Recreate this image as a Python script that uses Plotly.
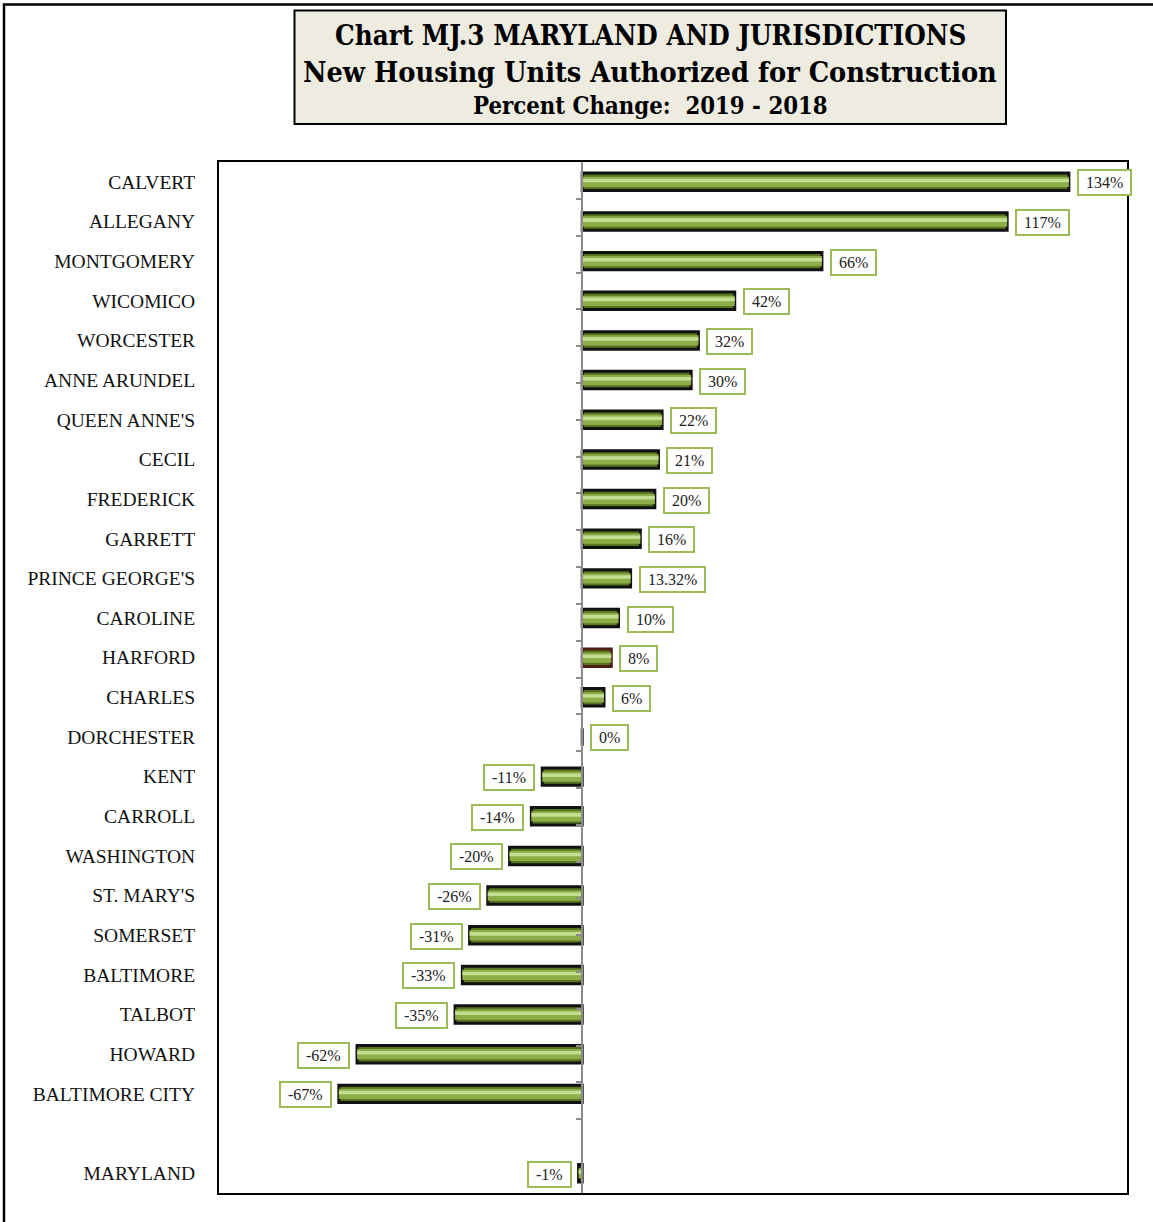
import plotly.graph_objects as go

# ---------------- data ----------------
counties = ["CALVERT", "ALLEGANY", "MONTGOMERY", "WICOMICO", "WORCESTER", "ANNE ARUNDEL",
            "QUEEN ANNE'S", "CECIL", "FREDERICK", "GARRETT", "PRINCE GEORGE'S", "CAROLINE",
            "HARFORD", "CHARLES", "DORCHESTER", "KENT", "CARROLL", "WASHINGTON", "ST. MARY'S",
            "SOMERSET", "BALTIMORE", "TALBOT", "HOWARD", "BALTIMORE CITY", " ", "MARYLAND"]
pct_change = [134, 117, 66, 42, 32, 30, 22, 21, 20, 16, 13.32, 10, 8, 6, 0,
              -11, -14, -20, -26, -31, -33, -35, -62, -67, None, -1]
value_labels = ["134%", "117%", "66%", "42%", "32%", "30%", "22%", "21%", "20%", "16%",
                "13.32%", "10%", "8%", "6%", "0%", "-11%", "-14%", "-20%", "-26%", "-31%",
                "-33%", "-35%", "-62%", "-67%", None, "-1%"]
title_lines = ["Chart MJ.3 MARYLAND AND JURISDICTIONS",
               "New Housing Units Authorized for Construction",
               "Percent Change:  2019 - 2018"]

# ---------------- layout geometry ----------------
W, H = 1153, 1222
L, R, T, B = 219, 26, 162, 29
PW, PH = W - L - R, H - T - B

def px_x(x):
    return (x - L) / PW

def px_y(y):
    return (H - B - y) / PH

SERIF = "Liberation Serif"
TITLE_FONT = "DejaVu Serif Condensed"

fig = go.Figure()

outline_colors = ["#4a1e14" if c == "HARFORD" else "#111111" for c in counties]

# outer bar (dark with black outline)
fig.add_trace(go.Bar(
    y=counties, x=pct_change, orientation="h", width=0.44,
    marker=dict(color="#58751f", line=dict(color=outline_colors, width=3)),
    hoverinfo="skip", showlegend=False,
))
# middle body
fig.add_trace(go.Bar(
    y=counties, x=pct_change, orientation="h", width=0.26,
    marker=dict(color="#8cad47", line=dict(width=0)),
    hoverinfo="skip", showlegend=False,
))
# highlight stripe
fig.add_trace(go.Bar(
    y=counties, x=pct_change, orientation="h", width=0.09, offset=-0.08,
    marker=dict(color="#c2de90", line=dict(width=0)),
    hoverinfo="skip", showlegend=False,
))
# invisible trace for the zero-axis ticks
fig.add_trace(go.Scatter(
    y=counties, x=[0] * len(counties), yaxis="y2", mode="markers",
    marker=dict(opacity=0), hoverinfo="skip", showlegend=False,
))

annotations = []
for c, v, lab in zip(counties, pct_change, value_labels):
    if v is None:
        continue
    pos = v >= 0
    annotations.append(dict(
        x=v, y=c, xref="x", yref="y", text="&nbsp;%s&nbsp;" % lab, showarrow=False,
        xanchor="left" if pos else "right", xshift=8 if pos else -7, yshift=-1,
        font=dict(family=SERIF, size=16, color="#222222"),
        bgcolor="white", bordercolor="#9bbb59", borderwidth=2, borderpad=3,
    ))

# title text
title_y = [35, 72, 106]
title_sizes = [27.5, 28.6, 23.7]
for line, yy, sz in zip(title_lines, title_y, title_sizes):
    annotations.append(dict(
        x=px_x(650), y=px_y(yy), xref="paper", yref="paper", text="<b>%s</b>" % line,
        showarrow=False, xanchor="center", yanchor="middle",
        font=dict(family=TITLE_FONT, size=sz, color="black"),
    ))

shapes = [
    # outer frame
    dict(type="rect", xref="paper", yref="paper",
         x0=px_x(4), x1=px_x(1170), y0=px_y(1240), y1=px_y(4.5),
         line=dict(color="black", width=2.5), fillcolor="rgba(0,0,0,0)", layer="below"),
    # title box
    dict(type="rect", xref="paper", yref="paper",
         x0=px_x(294.5), x1=px_x(1006), y0=px_y(124), y1=px_y(10.5),
         line=dict(color="black", width=2), fillcolor="#eeece1", layer="below"),
]

fig.update_layout(
    width=W, height=H,
    margin=dict(l=L, r=R, t=T, b=B),
    paper_bgcolor="white", plot_bgcolor="white",
    barmode="overlay",
    showlegend=False,
    xaxis=dict(range=[-100, 150], showticklabels=False, showgrid=False,
               zeroline=False, showline=True, mirror=True,
               linecolor="black", linewidth=2, ticks=""),
    yaxis=dict(type="category", categoryarray=counties, autorange="reversed",
               showgrid=False, zeroline=False, showline=True, mirror=True,
               linecolor="black", linewidth=2, ticks="", ticklabelstandoff=18,
               tickfont=dict(family=SERIF, size=19.5, color="#111111")),
    yaxis2=dict(type="category", categoryarray=counties, autorange="reversed",
                overlaying="y", anchor="free", position=0.4, side="left",
                showline=True, linecolor="#8c8c8c", linewidth=2,
                ticks="outside", ticklen=5, tickwidth=1.5, tickcolor="#8c8c8c",
                tickson="boundaries", showticklabels=False, showgrid=False,
                zeroline=False),
    annotations=annotations,
    shapes=shapes,
)

fig.write_html("out.html", config={"displayModeBar": False},
               post_script="document.body.style.margin='0';document.body.style.overflow='hidden';")
